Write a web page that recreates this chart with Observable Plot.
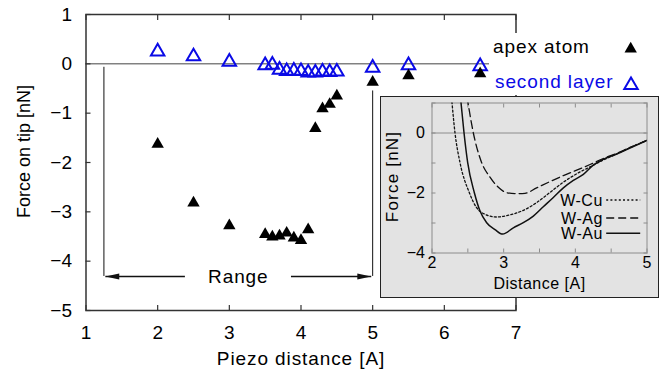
<!DOCTYPE html>
<html>
<head>
<meta charset="utf-8">
<script src="https://cdn.jsdelivr.net/npm/d3@7"></script>
<script src="https://cdn.jsdelivr.net/npm/@observablehq/plot@0.6"></script>
<style>
  html, body { margin: 0; padding: 0; background: #fff; }
  #chart { position: relative; width: 660px; height: 378px; overflow: hidden;
           font-family: "Liberation Sans", Arial, Helvetica, sans-serif; }
  #chart svg { position: absolute; }
  #legend { position: absolute; left: 489px; top: 33px; width: 171px; height: 62px; background: #fff; }
  #inset { position: absolute; left: 380px; top: 96px; width: 277px; height: 200px;
           border: 1.5px solid #222; background: #e3e3e3; }
</style>
</head>
<body>
<div id="chart"></div>
<script>
const font = '"Liberation Sans", Arial, Helvetica, sans-serif';

// Force on the tip atoms versus piezo displacement
const apexX  = [2, 2.5, 3, 3.5, 3.6, 3.7, 3.8, 3.9, 4.0, 4.1, 4.2, 4.3, 4.4, 4.5, 5, 5.5, 6.5];
const apexF  = [-1.63, -2.82, -3.28, -3.46, -3.51, -3.49, -3.43, -3.53, -3.58, -3.36, -1.31, -0.91, -0.82, -0.65, -0.37, -0.24, -0.2];
const layerX = [2, 2.5, 3, 3.5, 3.6, 3.7, 3.8, 3.9, 4.0, 4.1, 4.2, 4.3, 4.4, 4.5, 5, 5.5, 6.5];
const layerF = [0.25, 0.15, 0.04, -0.03, -0.02, -0.12, -0.15, -0.14, -0.15, -0.18, -0.18, -0.16, -0.17, -0.16, -0.08, -0.03, -0.05];
const seriesNames = ["apex atom", "second layer"];

const xTicks = [1, 2, 3, 4, 5, 6, 7];
const yTicks = [1, 0, -1, -2, -3, -4, -5];

// Working range bracket
const rangeBounds = [{x: 1.25, top: -0.07}, {x: 5, top: -0.55}];
const rangeLevel = -4.31;
const rangeArrows = [{from: 2.38, to: 1.27}, {from: 3.86, to: 4.98}];
const rangeLabel = "Range";

// Inset: force-distance curves for W tips on Cu, Ag and Au
const cuD = [2.255, 2.274, 2.321, 2.391, 2.521, 2.623, 2.740, 2.902, 3.088, 3.274, 3.460, 3.647, 3.833, 4.019, 4.205, 4.391, 4.577, 4.763, 4.995];
const cuF = [1.6, 1.13, 0, -0.99, -1.99, -2.49, -2.71, -2.80, -2.73, -2.58, -2.32, -1.98, -1.64, -1.36, -1.13, -0.90, -0.70, -0.49, -0.25];
const agD = [2.458, 2.493, 2.577, 2.693, 2.809, 2.926, 3.042, 3.158, 3.298, 3.460, 3.647, 3.833, 4.019, 4.205, 4.391, 4.577, 4.763, 4.995];
const agF = [1.6, 1.13, 0, -0.99, -1.47, -1.81, -1.99, -2.02, -2.01, -1.83, -1.62, -1.42, -1.24, -1.05, -0.85, -0.68, -0.48, -0.25];
const auD = [2.38, 2.40, 2.447, 2.498, 2.591, 2.670, 2.763, 2.879, 2.986, 3.135, 3.274, 3.414, 3.553, 3.693, 3.833, 3.972, 4.112, 4.251, 4.391, 4.577, 4.763, 4.995];
const auF = [1.6, 1.13, 0, -0.99, -1.99, -2.60, -2.99, -3.22, -3.37, -3.16, -2.99, -2.77, -2.46, -2.15, -1.83, -1.58, -1.38, -1.07, -0.88, -0.70, -0.50, -0.25];
const curveNames = ["W-Cu", "W-Ag", "W-Au"];
const curveDash = ["2,2.2", "8,4", null];

const insetXTicks = [2, 2.5, 3, 3.5, 4, 4.5, 5];
const insetXLabels = [2, 3, 4, 5];
const insetYTicks = [1, 0, -1, -2, -3, -4];
const insetYLabels = [0, -2, -4];

const apex = apexX.map((x, i) => ({x, f: apexF[i]}));
const layer = layerX.map((x, i) => ({x, f: layerF[i]}));
const curves = [[cuD, cuF], [agD, agF], [auD, auF]].map(([d, f], k) =>
  d.map((x, i) => ({name: curveNames[k], d: x, f: f[i]})));

// filled arrow head, tip at the origin, pointing to +x
const arrowHead = {
  draw(context, size) {
    const l = Math.sqrt(size) * 1.4, w = l * 0.21;
    context.moveTo(0, 0);
    context.lineTo(-l, -w);
    context.lineTo(-l, w);
    context.closePath();
  }
};

// widen the tracking of word labels
function track(svg, texts, px) {
  d3.select(svg).selectAll("text")
    .filter(function () { return texts.includes(this.textContent); })
    .attr("letter-spacing", px + "px");
}

const blue = "#0a0ae6";
const chart = document.getElementById("chart");

const main = Plot.plot({
  width: 660, height: 378,
  marginLeft: 85.5, marginRight: 144.5, marginTop: 14, marginBottom: 68,
  style: {fontFamily: font, fontSize: "19px", color: "#000", background: "transparent"},
  x: {domain: [1, 7]},
  y: {domain: [-5, 1]},
  marks: [
    Plot.ruleY([0], {stroke: "#444", strokeWidth: 1}),
    Plot.axisX(xTicks, {anchor: "bottom", tickSize: -5, fill: "none", label: null, stroke: "#333", strokeWidth: 1.2}),
    Plot.axisX(xTicks, {anchor: "top", tickSize: -5, fill: "none", label: null, stroke: "#333", strokeWidth: 1.2}),
    Plot.axisY(yTicks, {anchor: "left", tickSize: -5, fill: "none", label: null, stroke: "#333", strokeWidth: 1.2}),
    Plot.axisX(xTicks, {anchor: "bottom", tickSize: 0, tickPadding: 15, label: null, fontSize: 19}),
    Plot.axisY(yTicks, {anchor: "left", tickSize: 0, tickPadding: 14, label: null, fontSize: 19}),
    Plot.frame({stroke: "#333", strokeWidth: 1.5}),
    Plot.ruleX(rangeBounds, {x: "x", y1: "top", y2: rangeLevel, stroke: "#111", strokeWidth: 1}),
    Plot.link(rangeArrows, {x1: "from", x2: "to", y1: rangeLevel, y2: rangeLevel, stroke: "#111", strokeWidth: 1.6}),
    Plot.dot(rangeArrows, {x: "to", y: rangeLevel, symbol: arrowHead, r: 5.6, fill: "#111", stroke: "none",
                           rotate: d => d.to < d.from ? 180 : 0}),
    Plot.text([rangeLabel], {x: (rangeBounds[0].x + rangeBounds[1].x) / 2, y: rangeLevel, fontSize: 19}),
    Plot.dot(layer, {x: "x", y: "f", symbol: "triangle", r: 5.0, fill: "none", stroke: blue, strokeWidth: 2}),
    Plot.dot(apex, {x: "x", y: "f", symbol: "triangle", r: 4.6, fill: "#000", stroke: "none"}),
    Plot.text(["Piezo distance [A]"], {frameAnchor: "bottom", dy: 48, fontSize: 19,
                                       textAnchor: "middle", lineAnchor: "middle"}),
    Plot.text(["Force on tip [nN]"], {frameAnchor: "left", rotate: -90, dx: -62, dy: -11, fontSize: 18,
                                      textAnchor: "middle", lineAnchor: "middle"})
  ]
});
main.style.left = "0px"; main.style.top = "0px";
track(main, ["Piezo distance [A]", rangeLabel], 0.9);
chart.appendChild(main);

// legend box over the right edge of the frame
const legend = document.createElement("div");
legend.id = "legend";
chart.appendChild(legend);
const lsvg = d3.select(legend).append("svg").attr("width", 171).attr("height", 62)
  .style("left", "0px").style("top", "0px");
lsvg.append("text").attr("x", 4).attr("y", 20.3).attr("font-size", 19).attr("letter-spacing", "0.9px")
  .attr("fill", "#000").text(seriesNames[0]);
lsvg.append("text").attr("x", 6).attr("y", 54.7).attr("font-size", 19).attr("letter-spacing", "0.9px")
  .attr("fill", blue).text(seriesNames[1]);
lsvg.append("path").attr("transform", "translate(141.7,15.8)")
  .attr("d", d3.symbol(d3.symbolTriangle, 4.6 * 4.6 * Math.PI)()).attr("fill", "#000");
lsvg.append("path").attr("transform", "translate(142,52.2)")
  .attr("d", d3.symbol(d3.symbolTriangle, 5.0 * 5.0 * Math.PI)()).attr("fill", "none")
  .attr("stroke", blue).attr("stroke-width", 2);

// inset panel
const inset = document.createElement("div");
inset.id = "inset";
chart.appendChild(inset);
const grey = "#8c8c8c";
const insetPlot = Plot.plot({
  width: 277, height: 200,
  marginLeft: 50.5, marginRight: 11.5, marginTop: 5.5, marginBottom: 44.5,
  style: {fontFamily: font, fontSize: "16px", color: "#000", background: "transparent"},
  x: {domain: [2, 5]},
  y: {domain: [-4, 1]},
  marks: [
    Plot.ruleY([0], {stroke: grey, strokeWidth: 1}),
    Plot.axisX(insetXTicks, {anchor: "bottom", tickSize: -4, fill: "none", label: null, stroke: grey}),
    Plot.axisX(insetXTicks, {anchor: "top", tickSize: -4, fill: "none", label: null, stroke: grey}),
    Plot.axisY(insetYTicks, {anchor: "left", tickSize: -4, fill: "none", label: null, stroke: grey}),
    Plot.axisY(insetYTicks, {anchor: "right", tickSize: -4, fill: "none", label: null, stroke: grey}),
    Plot.frame({stroke: grey, strokeWidth: 1}),
    Plot.axisX(insetXLabels, {anchor: "bottom", tickSize: 0, tickPadding: 4, label: null, fontSize: 16}),
    Plot.axisY(insetYLabels, {anchor: "left", tickSize: 0, tickPadding: 7, label: null, fontSize: 16}),
    ...curves.map((c, k) => Plot.line(c, {x: "d", y: "f", curve: "monotone-x", clip: true,
      stroke: "#111", strokeWidth: k === 2 ? 1.5 : 1.3, strokeDasharray: curveDash[k]})),
    Plot.text(["Distance [A]"], {frameAnchor: "bottom", dy: 31, fontSize: 16,
                                 textAnchor: "middle", lineAnchor: "middle"}),
    Plot.text(["Force [nN]"], {frameAnchor: "left", rotate: -90, dx: -39, dy: -1.5, fontSize: 17,
                               textAnchor: "middle", lineAnchor: "middle"})
  ]
});
insetPlot.style.left = "0px"; insetPlot.style.top = "0px";
track(insetPlot, ["Distance [A]"], 0.5);
track(insetPlot, ["Force [nN]"], 1.2);
inset.appendChild(insetPlot);

// inset legend
const isvg = d3.select(inset).append("svg").attr("width", 277).attr("height", 200)
  .style("left", "0px").style("top", "0px");
const rows = [{b: 108.5, m: 103}, {b: 126.5, m: 121}, {b: 141.8, m: 136.3}];
curveNames.forEach((name, k) => {
  isvg.append("text").attr("x", 221.8).attr("y", rows[k].b).attr("text-anchor", "end")
    .attr("font-size", 16).attr("letter-spacing", "0.5px").attr("fill", "#000").text(name);
  isvg.append("line").attr("x1", 225.2).attr("x2", 259.2).attr("y1", rows[k].m).attr("y2", rows[k].m)
    .attr("stroke", "#111").attr("stroke-width", k === 2 ? 1.5 : 1.3)
    .attr("stroke-dasharray", curveDash[k]);
});
</script>
</body>
</html>
